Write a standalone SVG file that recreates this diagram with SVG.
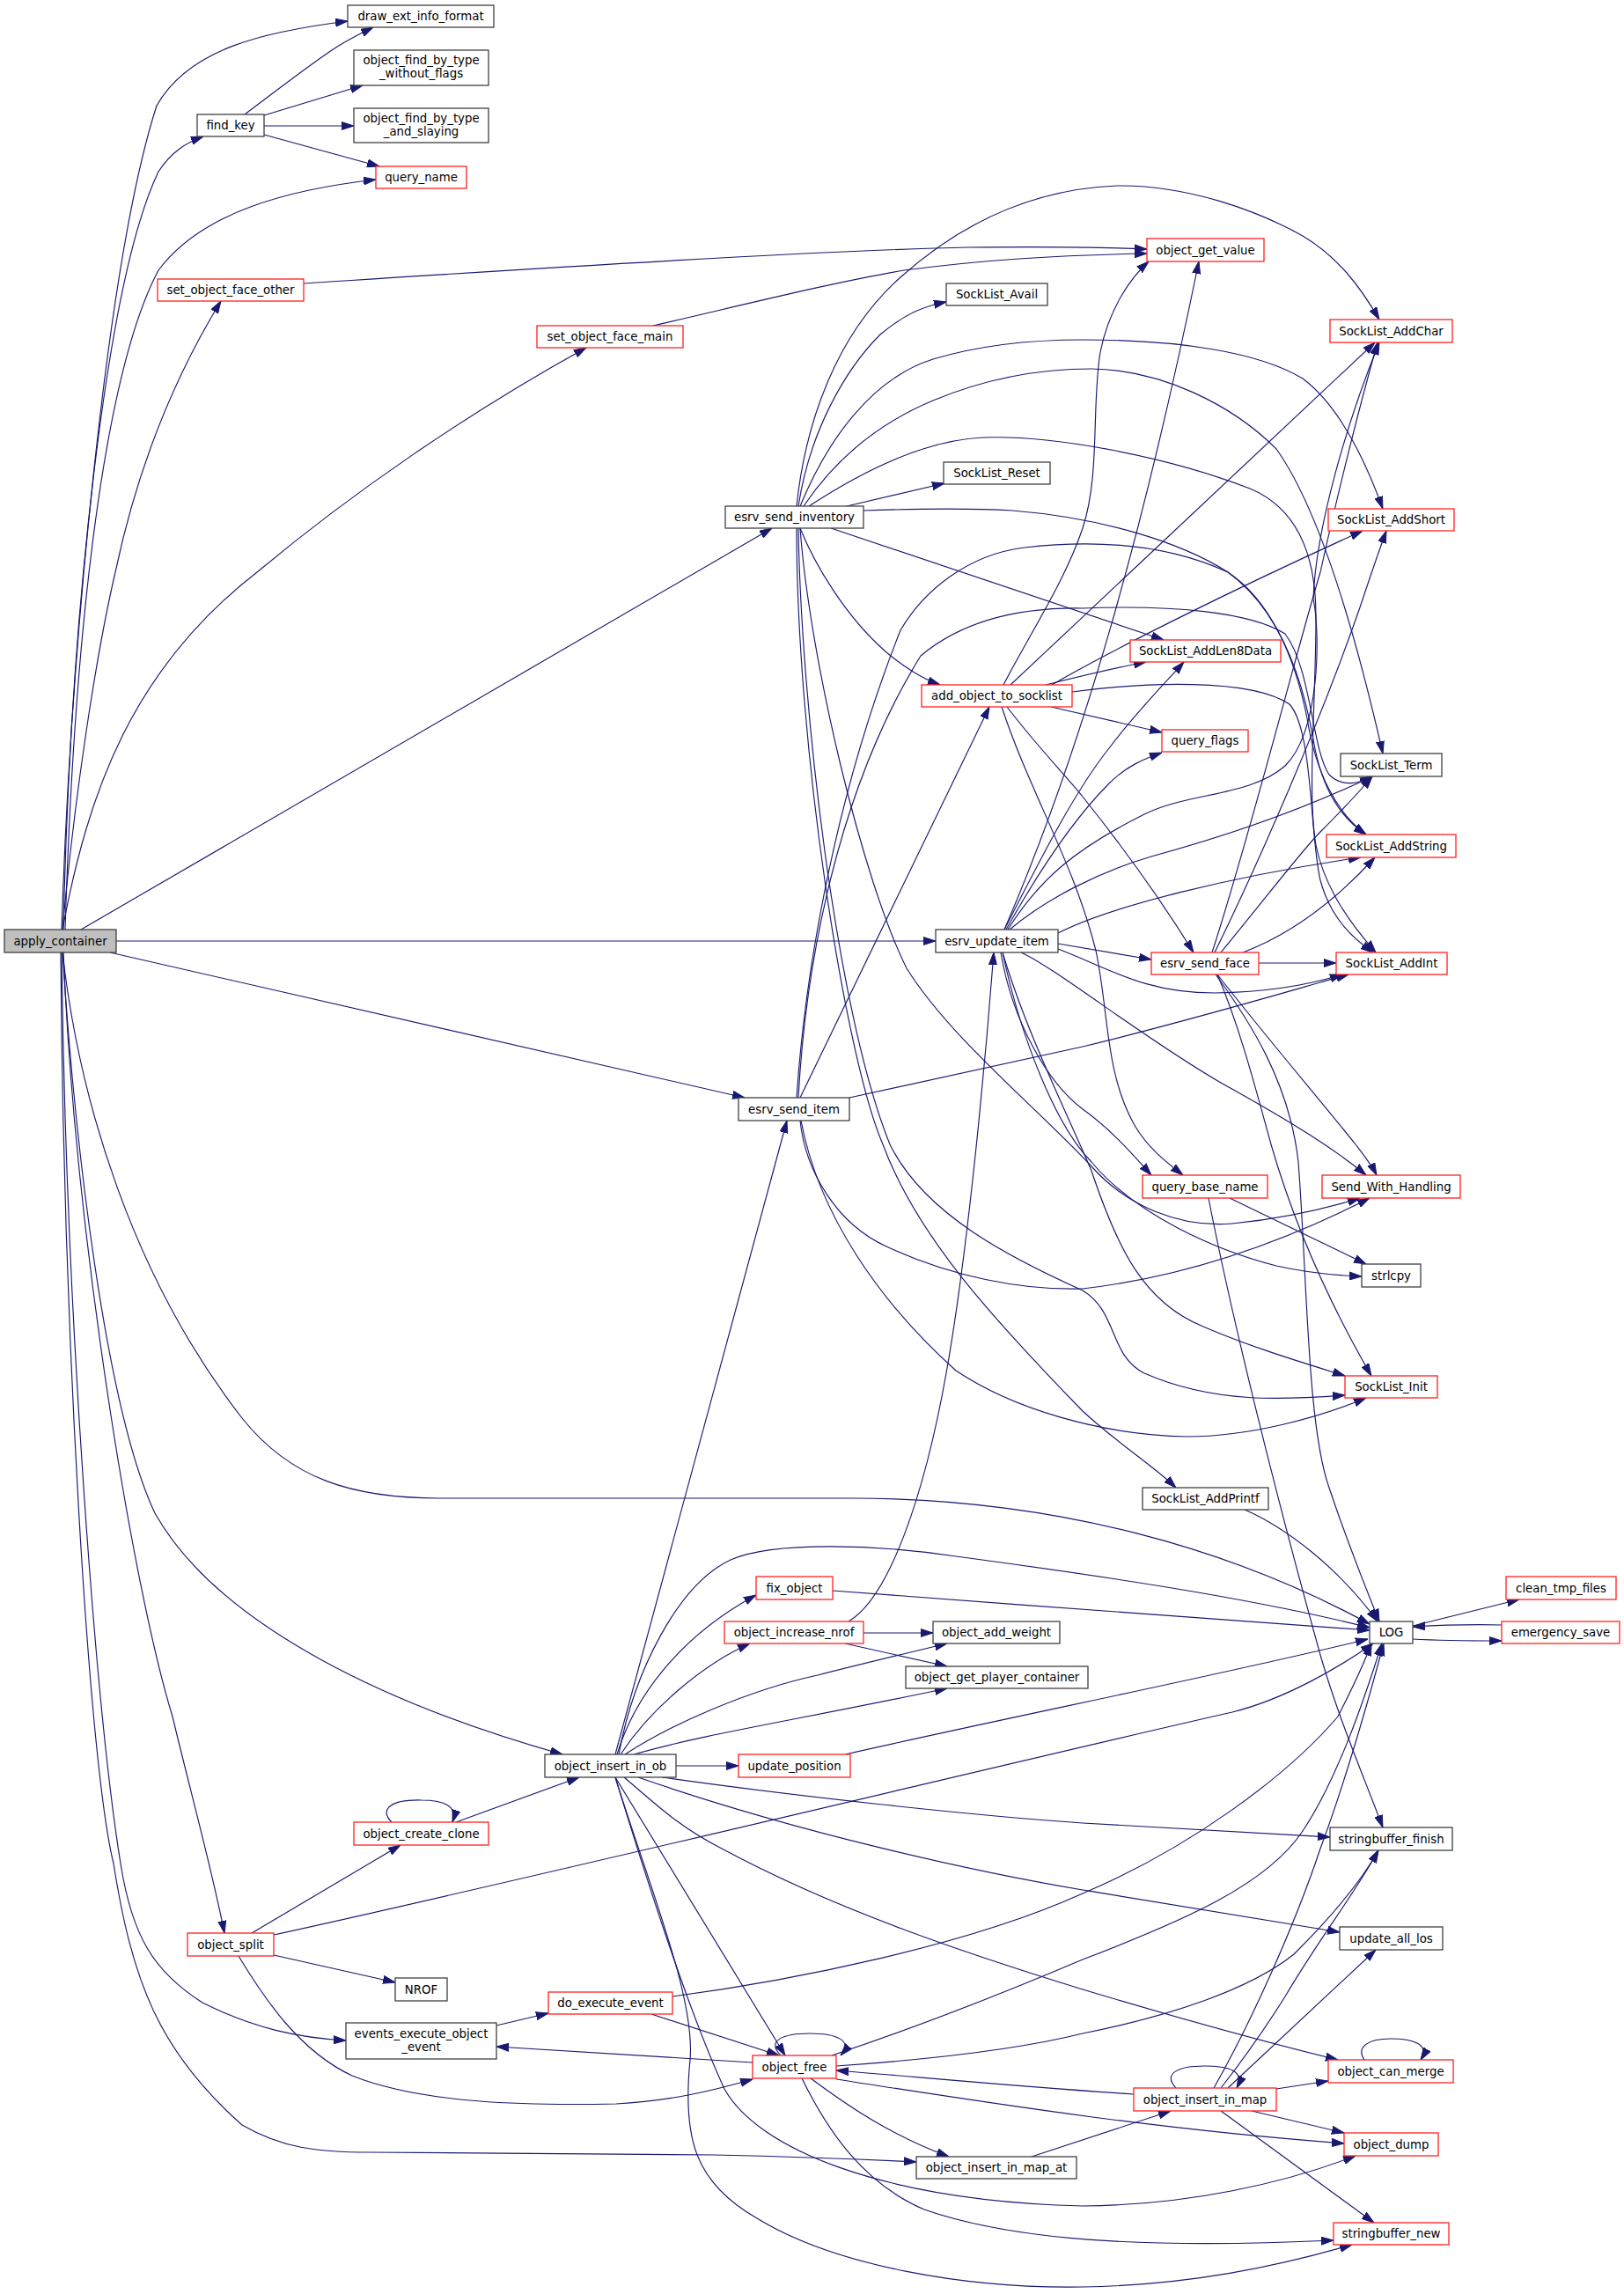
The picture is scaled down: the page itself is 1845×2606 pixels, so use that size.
<svg xmlns="http://www.w3.org/2000/svg" width="1845" height="2606" viewBox="0 0 1845 2606">
<style>
.n rect{fill:#fff;stroke:#404040;stroke-width:1.3}
.n.r rect{stroke:#ff2020}
.n.root rect{fill:#bfbfbf}
text{font-family:"DejaVu Sans","Liberation Sans",sans-serif;font-size:13.3px;text-anchor:middle;fill:#000}
#edges path{fill:none;stroke:#191970;stroke-width:1.15;marker-end:url(#a)}
</style>
<defs>
<marker id="a" viewBox="0 0 14 10" refX="14" refY="5" markerWidth="14" markerHeight="10" markerUnits="userSpaceOnUse" orient="auto">
<path d="M0,0.5 L14,5 L0,9.5 z" fill="#191970" stroke="#191970" stroke-width="1"/>
</marker>
</defs>
<rect width="1845" height="2606" fill="#fff"/>
<g id="edges">
<path d="M70,1056 C80,750 120,300 178,120 C215,55 300,36 395,24"/>
<path d="M72,1056 C80,700 120,320 180,195 C195,172 212,162 231,155"/>
<path d="M74,1056 C85,700 120,420 180,307 C230,240 330,215 427,204"/>
<path d="M71,1056 C85,900 110,740 131,650 C150,560 185,450 251,342"/>
<path d="M71,1056 C100,900 150,760 292,650 C400,560 530,470 666,395"/>
<path d="M92,1056 L877,600"/>
<path d="M132,1069 L1063,1069"/>
<path d="M125,1082 L846,1247"/>
<path d="M71,1082 C90,1250 150,1450 275,1611 C330,1680 400,1702 500,1702 L968,1702 C1200,1702 1400,1760 1556,1845"/>
<path d="M71,1082 C85,1300 120,1600 176,1719 C250,1850 450,1940 639,1993"/>
<path d="M72,1082 C85,1400 150,1800 196,1950 C215,2030 240,2120 255,2196"/>
<path d="M70,1082 C75,1500 110,1950 137,2117 C150,2200 175,2240 230,2275 C290,2305 340,2315 393,2318"/>
<path d="M69,1082 C72,1500 100,2000 129,2117 C150,2250 180,2330 275,2414 C320,2440 360,2445 420,2445 L811,2448 C900,2450 980,2453 1041,2456"/>
<path d="M278,130 C310,106 350,75 377,57 C395,45 410,38 424,31"/>
<path d="M300,131 L412,97"/>
<path d="M300,143 L402,143"/>
<path d="M300,153 L431,189"/>
<path d="M345,322 C500,312 900,285 1100,281 C1200,280 1260,281 1303,283"/>
<path d="M742,370 C850,345 950,320 1027,307 C1120,295 1200,290 1303,288"/>
<path d="M905,575 C915,480 950,380 1023,315 C1090,255 1170,215 1269,211 C1350,210 1430,240 1480,268 C1520,292 1545,325 1567,363"/>
<path d="M907,575 C920,490 960,420 1000,380 C1030,355 1050,348 1075,343"/>
<path d="M909,575 C940,500 990,430 1060,408 C1120,390 1180,386 1230,386 C1340,386 1430,400 1480,430 C1520,460 1550,520 1571,578"/>
<path d="M913,575 C950,520 1000,480 1060,455 C1120,430 1180,419 1240,419 C1320,420 1400,460 1450,510 C1500,580 1540,720 1571,856"/>
<path d="M919,575 C980,535 1050,500 1117,497 C1200,494 1330,520 1420,555 C1480,580 1495,640 1495,700 C1495,800 1485,900 1495,960 C1505,1010 1535,1050 1563,1082"/>
<path d="M962,575 L1073,549"/>
<path d="M981,580 C1040,578 1100,577 1150,580 C1250,588 1340,615 1395,650 C1450,690 1478,760 1492,840 C1502,900 1525,930 1552,948"/>
<path d="M944,600 L1322,727"/>
<path d="M909,600 C925,640 960,700 1007,741 C1030,760 1050,772 1068,778"/>
<path d="M909,600 C920,750 980,1000 1030,1100 C1080,1180 1180,1260 1240,1325 C1280,1370 1340,1395 1400,1390 C1450,1385 1500,1375 1545,1361"/>
<path d="M907,600 C910,800 950,1150 1011,1300 C1050,1380 1150,1430 1230,1466 C1270,1490 1260,1540 1300,1560 C1380,1595 1460,1590 1528,1585"/>
<path d="M905,600 C905,850 960,1200 1003,1300 C1040,1400 1120,1490 1230,1603 C1270,1640 1310,1665 1336,1690"/>
<path d="M1140,778 C1170,720 1210,660 1230,600 C1250,540 1240,460 1250,400 C1260,350 1285,315 1305,297"/>
<path d="M1148,778 L1562,389"/>
<path d="M1195,778 C1260,740 1400,670 1548,603"/>
<path d="M1188,778 C1220,770 1260,760 1302,752"/>
<path d="M1194,803 L1320,832"/>
<path d="M1144,803 C1180,850 1210,880 1230,905 C1290,980 1330,1040 1356,1082"/>
<path d="M1138,803 C1170,900 1220,980 1245,1080 C1260,1150 1255,1220 1290,1280 C1305,1305 1325,1320 1344,1335"/>
<path d="M1218,786 C1300,775 1420,770 1465,800 C1492,830 1488,950 1500,1000 C1512,1045 1540,1068 1560,1082"/>
<path d="M1141,1056 C1230,850 1300,600 1362,297"/>
<path d="M1141,1056 C1180,980 1220,900 1260,850 C1290,810 1320,780 1345,752"/>
<path d="M1143,1056 C1180,990 1220,930 1260,890 C1280,870 1300,862 1320,855"/>
<path d="M1145,1056 C1180,1000 1220,965 1300,925 C1350,900 1420,905 1460,870 C1500,830 1500,720 1492,680 C1495,600 1530,480 1567,389"/>
<path d="M1147,1056 C1190,1020 1250,990 1308,973 C1400,948 1480,920 1559,882"/>
<path d="M1202,1060 C1260,1030 1400,995 1546,974"/>
<path d="M1202,1072 L1308,1090"/>
<path d="M1202,1078 C1260,1100 1300,1128 1380,1128 C1440,1127 1490,1118 1525,1107"/>
<path d="M1160,1082 C1200,1100 1300,1180 1387,1230 C1450,1265 1510,1300 1552,1335"/>
<path d="M1137,1082 C1150,1160 1190,1230 1230,1260 C1265,1285 1290,1315 1308,1335"/>
<path d="M1139,1082 C1160,1180 1200,1280 1240,1320 C1290,1380 1380,1420 1450,1438 C1490,1447 1520,1449 1547,1450"/>
<path d="M1139,1082 C1165,1170 1210,1260 1240,1330 C1270,1420 1300,1480 1367,1507 C1420,1530 1480,1548 1528,1563"/>
<path d="M1377,1082 C1420,950 1470,750 1500,650 C1520,560 1545,460 1565,389"/>
<path d="M1380,1082 C1430,980 1500,820 1545,690 C1555,660 1565,630 1575,603"/>
<path d="M1387,1082 C1430,1030 1480,965 1500,945 C1520,925 1540,905 1559,882"/>
<path d="M1412,1082 C1470,1060 1520,1020 1562,974"/>
<path d="M1430,1094 L1518,1094"/>
<path d="M1381,1107 C1420,1160 1465,1230 1475,1320 C1485,1450 1485,1620 1510,1690 C1530,1750 1550,1800 1567,1842"/>
<path d="M1383,1107 C1410,1170 1430,1250 1444,1300 C1470,1390 1510,1480 1558,1563"/>
<path d="M1383,1107 C1440,1180 1500,1250 1540,1300 C1550,1313 1558,1323 1564,1335"/>
<path d="M909,1247 L1124,803"/>
<path d="M905,1247 C915,1100 950,900 1023,716 C1050,670 1100,630 1164,622 C1250,612 1330,620 1395,650 C1440,680 1470,740 1485,816 C1495,880 1520,925 1552,948"/>
<path d="M907,1247 C915,1100 950,900 1046,745 C1100,700 1170,690 1230,691 C1330,687 1420,695 1460,720 C1490,760 1490,850 1510,880 C1525,895 1545,890 1559,882"/>
<path d="M965,1247 L1230,1189 C1350,1160 1450,1130 1532,1107"/>
<path d="M909,1273 C915,1330 950,1390 1007,1416 C1080,1450 1160,1466 1230,1464 C1350,1450 1460,1410 1556,1361"/>
<path d="M910,1273 C930,1380 1000,1480 1086,1557 C1150,1600 1250,1630 1348,1632 C1420,1632 1500,1610 1552,1588"/>
<path d="M964,1842 C1010,1815 1050,1700 1075,1560 C1100,1420 1120,1200 1129,1082"/>
<path d="M981,1855 L1060,1855"/>
<path d="M960,1867 L1076,1893"/>
<path d="M699,1993 L894,1273"/>
<path d="M703,1993 C720,1900 770,1800 830,1772 C880,1750 1000,1755 1086,1768 C1250,1790 1420,1815 1556,1849"/>
<path d="M701,1993 C720,1930 770,1860 859,1812"/>
<path d="M705,1993 C740,1940 800,1890 852,1867"/>
<path d="M710,1993 C760,1960 850,1920 929,1903 C980,1890 1030,1878 1076,1867"/>
<path d="M720,1993 C800,1970 900,1955 1076,1918"/>
<path d="M768,2006 L839,2006"/>
<path d="M752,2019 C900,2040 1100,2062 1230,2071 C1350,2078 1430,2082 1511,2087"/>
<path d="M725,2019 C900,2080 1100,2125 1230,2147 C1330,2163 1430,2180 1522,2195"/>
<path d="M709,2019 C740,2045 770,2075 820,2100 C950,2170 1100,2220 1230,2260 C1330,2290 1430,2318 1520,2340"/>
<path d="M699,2019 L892,2335"/>
<path d="M699,2019 C730,2120 780,2280 823,2373 C860,2440 1000,2500 1230,2506 C1350,2505 1460,2480 1540,2449"/>
<path d="M699,2019 C740,2150 790,2270 784,2340 C775,2430 790,2480 860,2520 C950,2575 1100,2600 1230,2598 C1350,2596 1450,2575 1536,2550"/>
<path d="M960,1993 C1150,1950 1400,1900 1554,1862"/>
<path d="M311,2198 C600,2135 1200,1990 1400,1945 C1460,1930 1520,1895 1560,1867"/>
<path d="M286,2196 L455,2096"/>
<path d="M311,2221 L449,2252"/>
<path d="M271,2222 C300,2270 340,2330 400,2358 C480,2390 600,2392 700,2390 C760,2387 810,2375 855,2362"/>
<path d="M445,2070 C430,2055 445,2044 479,2045 C505,2045 520,2052 514,2070"/>
<path d="M518,2070 L658,2019"/>
<path d="M564,2301 L623,2287"/>
<path d="M764,2268 C900,2250 1100,2210 1230,2151 C1350,2100 1460,2020 1520,1950 C1535,1920 1548,1895 1558,1867"/>
<path d="M740,2288 L885,2335"/>
<path d="M855,2343 C750,2336 650,2330 564,2325"/>
<path d="M887,2335 C870,2318 890,2310 920,2310 C950,2310 970,2318 955,2335"/>
<path d="M945,2335 C1050,2300 1150,2260 1230,2226 C1350,2180 1440,2140 1480,2080 C1520,2020 1550,1930 1570,1867"/>
<path d="M950,2347 C1050,2340 1150,2330 1230,2310 C1330,2290 1420,2260 1470,2220 C1510,2180 1545,2140 1566,2102"/>
<path d="M950,2362 C1100,2385 1300,2418 1527,2435"/>
<path d="M921,2361 C960,2390 1010,2425 1078,2450"/>
<path d="M911,2361 C940,2420 980,2480 1050,2510 C1150,2545 1300,2555 1515,2545"/>
<path d="M1172,2450 L1330,2398"/>
<path d="M1288,2379 C1150,2370 1050,2360 950,2352"/>
<path d="M1336,2372 C1320,2355 1340,2347 1368,2347 C1395,2347 1415,2352 1405,2372"/>
<path d="M1450,2373 L1509,2364"/>
<path d="M1422,2398 L1527,2423"/>
<path d="M1387,2398 L1561,2525"/>
<path d="M1395,2372 L1563,2215"/>
<path d="M1387,2372 C1420,2330 1440,2300 1460,2268 C1500,2200 1540,2150 1566,2102"/>
<path d="M1379,2372 C1420,2300 1470,2190 1500,2100 C1530,2020 1555,1930 1572,1867"/>
<path d="M1550,2340 C1540,2325 1555,2316 1580,2316 C1605,2316 1625,2322 1614,2340"/>
<path d="M1605,1847 L1726,1817"/>
<path d="M1605,1862 C1640,1864 1670,1864 1706,1864"/>
<path d="M1706,1846 C1670,1845 1640,1846 1605,1848"/>
<path d="M1414,1715 C1460,1735 1520,1780 1565,1842"/>
<path d="M946,1807 C1150,1822 1400,1842 1556,1852"/>
<path d="M1373,1361 C1400,1500 1450,1700 1500,1880 C1520,1950 1550,2020 1571,2076"/>
<path d="M1397,1361 L1552,1436"/>
</g>
<g id="n_apply_container" class="n root"><rect x="5" y="1056" width="127" height="26"/><text x="68.5" y="1074">apply_container</text></g>
<g id="n_draw_ext_info_format" class="n"><rect x="395" y="6" width="166" height="25"/><text x="478" y="23">draw_ext_info_format</text></g>
<g id="n_object_find_by_type_without_flags" class="n"><rect x="402" y="57" width="153" height="40"/><text x="478.5" y="73">object_find_by_type</text><text x="478.5" y="88">_without_flags</text></g>
<g id="n_find_key" class="n"><rect x="224" y="130" width="76" height="25"/><text x="262" y="147">find_key</text></g>
<g id="n_object_find_by_type_and_slaying" class="n"><rect x="402" y="123" width="153" height="39"/><text x="478.5" y="139">object_find_by_type</text><text x="478.5" y="154">_and_slaying</text></g>
<g id="n_query_name" class="n r"><rect x="427" y="189" width="103" height="25"/><text x="478.5" y="206">query_name</text></g>
<g id="n_set_object_face_other" class="n r"><rect x="179" y="317" width="166" height="25"/><text x="262" y="334">set_object_face_other</text></g>
<g id="n_set_object_face_main" class="n r"><rect x="610" y="370" width="166" height="25"/><text x="693" y="387">set_object_face_main</text></g>
<g id="n_SockList_Avail" class="n"><rect x="1075" y="322" width="115" height="25"/><text x="1132.5" y="339">SockList_Avail</text></g>
<g id="n_object_get_value" class="n r"><rect x="1303" y="271" width="133" height="26"/><text x="1369.5" y="289">object_get_value</text></g>
<g id="n_SockList_AddChar" class="n r"><rect x="1511" y="363" width="139" height="26"/><text x="1580.5" y="381">SockList_AddChar</text></g>
<g id="n_SockList_Reset" class="n"><rect x="1072" y="525" width="121" height="25"/><text x="1132.5" y="542">SockList_Reset</text></g>
<g id="n_esrv_send_inventory" class="n"><rect x="824" y="575" width="157" height="25"/><text x="902.5" y="592">esrv_send_inventory</text></g>
<g id="n_SockList_AddShort" class="n r"><rect x="1509" y="578" width="143" height="25"/><text x="1580.5" y="595">SockList_AddShort</text></g>
<g id="n_SockList_AddLen8Data" class="n r"><rect x="1284" y="727" width="171" height="25"/><text x="1369.5" y="744">SockList_AddLen8Data</text></g>
<g id="n_add_object_to_socklist" class="n r"><rect x="1047" y="778" width="171" height="25"/><text x="1132.5" y="795">add_object_to_socklist</text></g>
<g id="n_query_flags" class="n r"><rect x="1320" y="829" width="98" height="25"/><text x="1369" y="846">query_flags</text></g>
<g id="n_SockList_Term" class="n"><rect x="1523" y="856" width="115" height="26"/><text x="1580.5" y="874">SockList_Term</text></g>
<g id="n_SockList_AddString" class="n r"><rect x="1507" y="948" width="147" height="26"/><text x="1580.5" y="966">SockList_AddString</text></g>
<g id="n_esrv_update_item" class="n"><rect x="1063" y="1056" width="139" height="26"/><text x="1132.5" y="1074">esrv_update_item</text></g>
<g id="n_esrv_send_face" class="n r"><rect x="1308" y="1082" width="122" height="25"/><text x="1369" y="1099">esrv_send_face</text></g>
<g id="n_SockList_AddInt" class="n r"><rect x="1518" y="1082" width="126" height="25"/><text x="1581" y="1099">SockList_AddInt</text></g>
<g id="n_esrv_send_item" class="n"><rect x="839" y="1247" width="126" height="26"/><text x="902" y="1265">esrv_send_item</text></g>
<g id="n_query_base_name" class="n r"><rect x="1298" y="1335" width="142" height="26"/><text x="1369" y="1353">query_base_name</text></g>
<g id="n_Send_With_Handling" class="n r"><rect x="1502" y="1335" width="157" height="26"/><text x="1580.5" y="1353">Send_With_Handling</text></g>
<g id="n_strlcpy" class="n"><rect x="1547" y="1436" width="67" height="26"/><text x="1580.5" y="1454">strlcpy</text></g>
<g id="n_SockList_Init" class="n r"><rect x="1528" y="1563" width="105" height="25"/><text x="1580.5" y="1580">SockList_Init</text></g>
<g id="n_SockList_AddPrintf" class="n"><rect x="1298" y="1690" width="143" height="25"/><text x="1369.5" y="1707">SockList_AddPrintf</text></g>
<g id="n_fix_object" class="n r"><rect x="859" y="1791" width="87" height="26"/><text x="902.5" y="1809">fix_object</text></g>
<g id="n_clean_tmp_files" class="n r"><rect x="1711" y="1791" width="125" height="26"/><text x="1773.5" y="1809">clean_tmp_files</text></g>
<g id="n_object_increase_nrof" class="n r"><rect x="823" y="1842" width="158" height="25"/><text x="902" y="1859">object_increase_nrof</text></g>
<g id="n_object_add_weight" class="n"><rect x="1060" y="1842" width="144" height="25"/><text x="1132" y="1859">object_add_weight</text></g>
<g id="n_LOG" class="n"><rect x="1556" y="1842" width="49" height="25"/><text x="1580.5" y="1859">LOG</text></g>
<g id="n_emergency_save" class="n r"><rect x="1706" y="1842" width="134" height="25"/><text x="1773" y="1859">emergency_save</text></g>
<g id="n_object_get_player_container" class="n"><rect x="1029" y="1893" width="207" height="25"/><text x="1132.5" y="1910">object_get_player_container</text></g>
<g id="n_object_insert_in_ob" class="n"><rect x="619" y="1993" width="149" height="26"/><text x="693.5" y="2011">object_insert_in_ob</text></g>
<g id="n_update_position" class="n r"><rect x="839" y="1993" width="127" height="26"/><text x="902.5" y="2011">update_position</text></g>
<g id="n_object_create_clone" class="n r"><rect x="402" y="2070" width="153" height="26"/><text x="478.5" y="2088">object_create_clone</text></g>
<g id="n_stringbuffer_finish" class="n"><rect x="1511" y="2076" width="139" height="26"/><text x="1580.5" y="2094">stringbuffer_finish</text></g>
<g id="n_update_all_los" class="n"><rect x="1522" y="2189" width="117" height="26"/><text x="1580.5" y="2207">update_all_los</text></g>
<g id="n_object_split" class="n r"><rect x="213" y="2196" width="98" height="26"/><text x="262" y="2214">object_split</text></g>
<g id="n_NROF" class="n"><rect x="449" y="2247" width="59" height="26"/><text x="478.5" y="2265">NROF</text></g>
<g id="n_do_execute_event" class="n r"><rect x="623" y="2263" width="141" height="25"/><text x="693.5" y="2280">do_execute_event</text></g>
<g id="n_events_execute_object_event" class="n"><rect x="393" y="2298" width="171" height="41"/><text x="478.5" y="2315">events_execute_object</text><text x="478.5" y="2330">_event</text></g>
<g id="n_object_free" class="n r"><rect x="855" y="2335" width="95" height="26"/><text x="902.5" y="2353">object_free</text></g>
<g id="n_object_can_merge" class="n r"><rect x="1509" y="2340" width="142" height="26"/><text x="1580" y="2358">object_can_merge</text></g>
<g id="n_object_insert_in_map" class="n r"><rect x="1288" y="2372" width="162" height="26"/><text x="1369" y="2390">object_insert_in_map</text></g>
<g id="n_object_dump" class="n r"><rect x="1527" y="2423" width="107" height="26"/><text x="1580.5" y="2441">object_dump</text></g>
<g id="n_object_insert_in_map_at" class="n"><rect x="1041" y="2450" width="182" height="25"/><text x="1132" y="2467">object_insert_in_map_at</text></g>
<g id="n_stringbuffer_new" class="n r"><rect x="1515" y="2525" width="131" height="25"/><text x="1580.5" y="2542">stringbuffer_new</text></g>
</svg>
